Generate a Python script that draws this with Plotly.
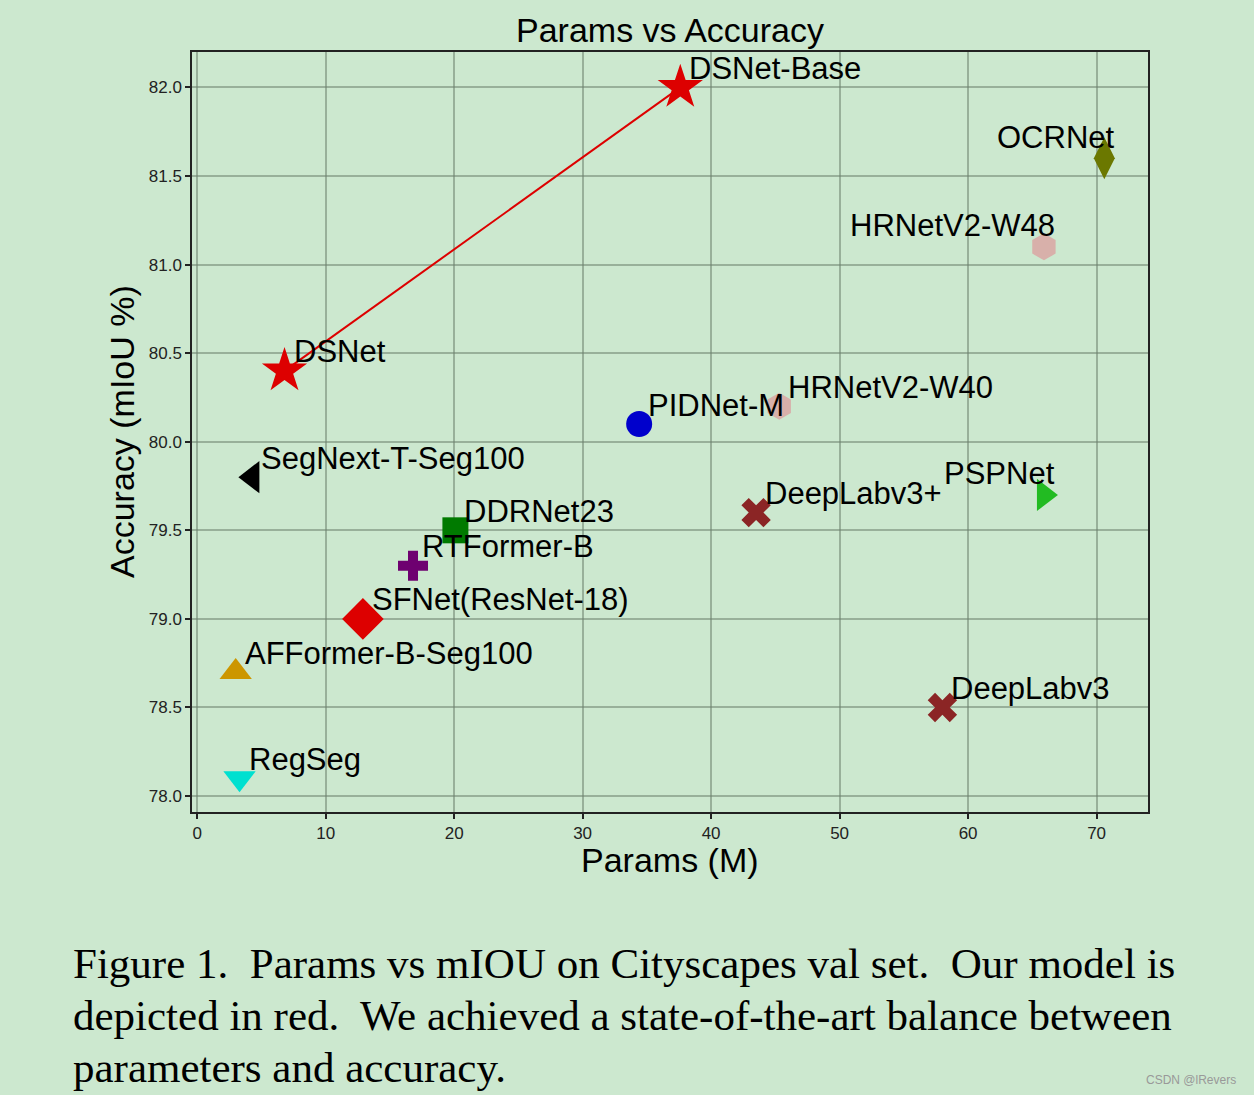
import plotly.graph_objects as go

# ---- data ----
models = ["DSNet", "DSNet-Base", "OCRNet", "HRNetV2-W48", "HRNetV2-W40", "PIDNet-M",
          "SegNext-T-Seg100", "DDRNet23", "RTFormer-B", "SFNet(ResNet-18)",
          "AFFormer-B-Seg100", "RegSeg", "DeepLabv3+", "PSPNet", "DeepLabv3"]
params = [6.8, 37.6, 70.6, 65.9, 45.3, 34.4, 4.3, 20.1, 16.8, 12.9, 3.0, 3.3, 43.5, 65.9, 58.0]
miou = [80.4, 82.0, 81.6, 81.1, 80.2, 80.1, 79.8, 79.5, 79.3, 79.0, 78.7, 78.1, 79.6, 79.7, 78.5]
symbols = ["star", "star", "diamond-tall", "hexagon", "hexagon", "circle",
           "triangle-left", "square", "cross", "diamond",
           "triangle-up", "triangle-down", "x", "triangle-right", "x"]
colors = ["#dd0000", "#dd0000", "#6b7800", "#d8b0aa", "#d8b0aa", "#0000cc",
          "#000000", "#007a00", "#6e0070", "#dd0000",
          "#cc9600", "#00e0d0", "#8b2525", "#22bb22", "#8b2525"]
sizes = [34, 34, 30, 27, 27, 26, 28, 26, 25, 32, 28, 28, 26, 28, 26]
label_side = ["left", "left", "right", "right", "left", "left",
              "left", "left", "left", "left", "left", "left", "left", "right", "left"]
ours = ["DSNet", "DSNet-Base"]

x_ticks = [0, 10, 20, 30, 40, 50, 60, 70]
y_ticks = [78.0, 78.5, 79.0, 79.5, 80.0, 80.5, 81.0, 81.5, 82.0]

caption_lines = [
    "Figure 1.  Params vs mIOU on Cityscapes val set.  Our model is",
    "depicted in red.  We achieved a state-of-the-art balance between",
    "parameters and accuracy.",
]

BG = "#cce8cf"
W, H = 1254, 1095
L, R, T, B = 192, 106, 52, 283
plot_h = H - T - B
plot_w = W - L - R

fig = go.Figure()

# line connecting our models
ox = [params[models.index(m)] for m in ours]
oy = [miou[models.index(m)] for m in ours]
fig.add_trace(go.Scatter(x=ox, y=oy, mode="lines",
                         line=dict(color="#dd0000", width=2), showlegend=False,
                         hoverinfo="skip"))

for m, px, py, s, c, sz in zip(models, params, miou, symbols, colors, sizes):
    fig.add_trace(go.Scatter(x=[px], y=[py], mode="markers", name=m,
                             marker=dict(symbol=s, color=c, size=sz, line=dict(width=0)),
                             showlegend=False))

annotations = []
for m, px, py, side in zip(models, params, miou, label_side):
    annotations.append(dict(
        x=px, y=py, xref="x", yref="y", text=m, showarrow=False,
        xanchor="left" if side == "left" else "right", yanchor="middle",
        xshift=7 if side == "left" else 13, yshift=19 if side == "left" else 21,
        font=dict(family="Liberation Sans, Arial", size=31, color="black")))

def py_paper(p):
    return (H - B - p) / plot_h

def px_paper(p):
    return (p - L) / plot_w

# axis titles
annotations.append(dict(text="Params (M)", x=0.5, y=py_paper(860), xref="paper", yref="paper",
                        showarrow=False, xanchor="center", yanchor="middle",
                        font=dict(family="Liberation Sans, Arial", size=34, color="black")))
annotations.append(dict(text="Accuracy (mIoU %)", x=px_paper(122), y=0.5,
                        xref="paper", yref="paper", showarrow=False, textangle=-90,
                        xanchor="center", yanchor="middle",
                        font=dict(family="Liberation Sans, Arial", size=34, color="black")))
# title
annotations.append(dict(text="Params vs Accuracy", x=0.5, y=py_paper(30), xref="paper", yref="paper",
                        showarrow=False, xanchor="center", yanchor="middle",
                        font=dict(family="Liberation Sans, Arial", size=34, color="black")))
# caption
for i, line in enumerate(caption_lines):
    annotations.append(dict(text=line, x=px_paper(71), y=py_paper(963 + 52 * i),
                            xref="paper", yref="paper", showarrow=False,
                            xanchor="left", yanchor="middle",
                            font=dict(family="Liberation Serif, Times New Roman", size=43, color="black")))
# watermark
annotations.append(dict(text="CSDN @lRevers", x=px_paper(1238), y=py_paper(1080),
                        xref="paper", yref="paper", showarrow=False,
                        xanchor="right", yanchor="middle",
                        font=dict(family="Liberation Sans, Arial", size=12, color="#999999")))

axis_common = dict(showline=True, linecolor="#222222", linewidth=1.5, mirror=True,
                   ticks="outside", ticklen=5, tickcolor="#222222", tickwidth=1.5,
                   showgrid=True, gridcolor="rgba(110,130,112,0.55)", gridwidth=1.5,
                   zeroline=False, layer="above traces",
                   tickfont=dict(family="Liberation Sans, Arial", size=17, color="#222222"))

fig.update_layout(
    width=W, height=H,
    margin=dict(l=L, r=R, t=T, b=B),
    paper_bgcolor=BG, plot_bgcolor=BG,
    xaxis=dict(range=[-0.4, 74.0], tickvals=x_ticks, ticktext=[str(v) for v in x_ticks], **axis_common),
    yaxis=dict(range=[77.91, 82.2], tickvals=y_ticks, ticktext=[f"{v:.1f}" for v in y_ticks], **axis_common),
    annotations=annotations,
)

fig.write_html("out.html", config={"displayModeBar": False},
               post_script="document.body.style.margin='0';document.body.style.padding='0';"
                           "document.body.style.background='" + BG + "';")
